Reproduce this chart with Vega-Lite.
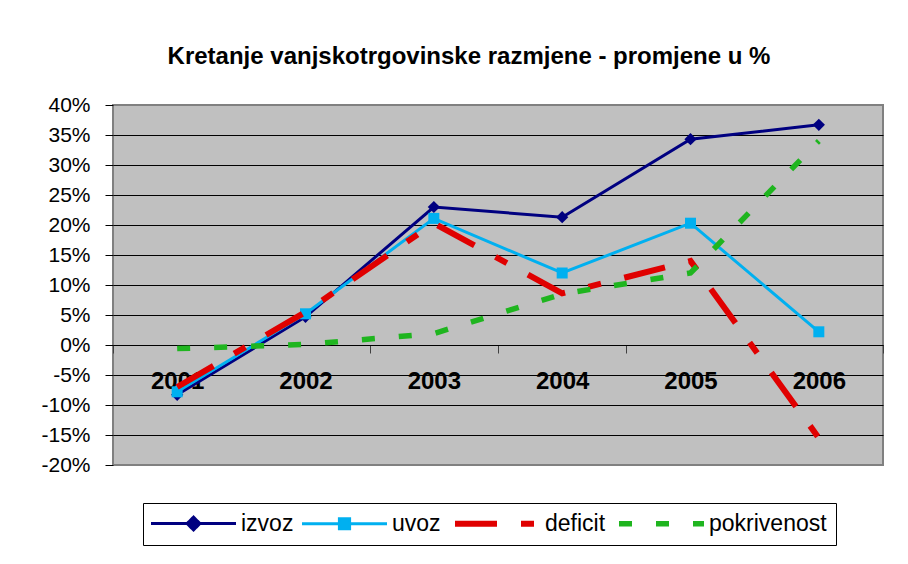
{
  "$schema": "https://vega.github.io/schema/vega-lite/v6.json",
  "width": 770,
  "height": 360,
  "autosize": {"type": "none"},
  "padding": {"left": 113, "top": 105, "right": 25, "bottom": 99},
  "background": "white",
  "title": {
    "text": "Kretanje vanjskotrgovinske razmjene - promjene u %",
    "font": "Liberation Sans",
    "fontSize": 24,
    "fontWeight": "bold",
    "color": "black",
    "anchor": "middle",
    "frame": "group",
    "dx": -29,
    "offset": 25
  },
  "config": {
    "view": {"fill": "#C0C0C0", "stroke": "#808080", "strokeWidth": 2}
  },
  "data": {
    "values": [
      {"year": "2001", "series": "izvoz", "value": -8.3},
      {"year": "2002", "series": "izvoz", "value": 4.7},
      {"year": "2003", "series": "izvoz", "value": 23.0},
      {"year": "2004", "series": "izvoz", "value": 21.3},
      {"year": "2005", "series": "izvoz", "value": 34.3},
      {"year": "2006", "series": "izvoz", "value": 36.7},
      {"year": "2001", "series": "uvoz", "value": -7.8},
      {"year": "2002", "series": "uvoz", "value": 5.2},
      {"year": "2003", "series": "uvoz", "value": 21.1},
      {"year": "2004", "series": "uvoz", "value": 12.0},
      {"year": "2005", "series": "uvoz", "value": 20.3},
      {"year": "2006", "series": "uvoz", "value": 2.2},
      {"year": "2001", "series": "deficit", "value": -7.0},
      {"year": "2002", "series": "deficit", "value": 5.5},
      {"year": "2003", "series": "deficit", "value": 20.3},
      {"year": "2004", "series": "deficit", "value": 8.6},
      {"year": "2005", "series": "deficit", "value": 14.0},
      {"year": "2006", "series": "deficit", "value": -15.5},
      {"year": "2001", "series": "pokrivenost", "value": -0.6},
      {"year": "2002", "series": "pokrivenost", "value": 0.1},
      {"year": "2003", "series": "pokrivenost", "value": 1.9},
      {"year": "2004", "series": "pokrivenost", "value": 8.5},
      {"year": "2005", "series": "pokrivenost", "value": 12.0},
      {"year": "2006", "series": "pokrivenost", "value": 34.0}
    ]
  },
  "encoding": {
    "x": {
      "field": "year",
      "type": "ordinal",
      "scale": {"paddingInner": 0, "paddingOuter": 0},
      "axis": {
        "title": null,
        "offset": -120,
        "tickBand": "extent",
        "tickSize": 8,
        "tickColor": "#404040",
        "domainColor": "black",
        "domainWidth": 1,
        "labelFont": "Liberation Sans",
        "labelFontSize": 24,
        "labelFontWeight": "bold",
        "labelColor": "black",
        "labelAngle": 0,
        "labelPadding": 16,
        "grid": false
      }
    },
    "y": {
      "field": "value",
      "type": "quantitative",
      "scale": {"domain": [-20, 40], "nice": false, "zero": false},
      "axis": {
        "title": null,
        "values": [-20, -15, -10, -5, 0, 5, 10, 15, 20, 25, 30, 35, 40],
        "labelExpr": "datum.value + '%'",
        "tickSize": 8,
        "tickColor": "black",
        "domain": false,
        "grid": true,
        "gridColor": {"condition": {"test": "datum.value == 40 || datum.value == -20", "value": "#808080"}, "value": "black"},
        "gridWidth": 1,
        "gridOpacity": 1,
        "labelFont": "Liberation Sans",
        "labelFontSize": 21,
        "labelColor": "black",
        "labelPadding": 15
      }
    },
    "color": {
      "field": "series",
      "type": "nominal",
      "scale": {
        "domain": ["izvoz", "uvoz", "deficit", "pokrivenost"],
        "range": ["#000080", "#00B0F0", "#E00000", "#1FB51F"]
      },
      "legend": {
        "title": null,
        "orient": "none",
        "legendX": 30,
        "legendY": 398,
        "direction": "horizontal",
        "symbolType": "stroke",
        "symbolSize": 7225,
        "symbolStrokeWidth": 3,
        "symbolOffset": 30,
        "labelFont": "Liberation Sans",
        "labelFontSize": 23,
        "labelColor": "black",
        "labelOffset": 36,
        "columnPadding": 2,
        "padding": 9,
        "strokeColor": "black",
        "fillColor": "white",
        "encode": {
          "symbols": {
            "update": {
              "shape": {"signal": "datum.value === 'izvoz' ? 'M-1,0L1,0M-0.15,0L0,-0.15L0.15,0L0,0.15Z' : datum.value === 'uvoz' ? 'M-1,0L1,0M-0.12,-0.12L0.12,-0.12L0.12,0.12L-0.12,0.12Z' : 'M-1,0L1,0'"},
              "fill": {"signal": "datum.value === 'izvoz' || datum.value === 'uvoz' ? scale('color', datum.value) : 'transparent'"},
              "stroke": {"signal": "scale('color', datum.value)"},
              "strokeWidth": {"signal": "datum.value === 'deficit' ? 6 : datum.value === 'pokrivenost' ? 5.5 : 3"},
              "strokeDash": {"signal": "datum.value === 'deficit' ? [42,24,13,24] : datum.value === 'pokrivenost' ? [13,24] : [1,0]"},
              "size": {"value": 7225},
              "opacity": {"value": 1}
            }
          }
        }
      }
    }
  },
  "layer": [
    {
      "transform": [{"filter": "datum.series === 'izvoz'"}],
      "mark": {"type": "line", "strokeWidth": 3}
    },
    {
      "transform": [{"filter": "datum.series === 'izvoz'"}],
      "mark": {"type": "point", "shape": "diamond", "filled": true, "opacity": 1, "size": 150}
    },
    {
      "transform": [{"filter": "datum.series === 'uvoz'"}],
      "mark": {"type": "line", "strokeWidth": 3}
    },
    {
      "transform": [{"filter": "datum.series === 'uvoz'"}],
      "mark": {"type": "point", "shape": "square", "filled": true, "opacity": 1, "size": 121}
    },
    {
      "transform": [{"filter": "datum.series === 'deficit'"}],
      "mark": {"type": "line", "strokeWidth": 6, "strokeDash": [42, 24, 13, 24]}
    },
    {
      "transform": [{"filter": "datum.series === 'pokrivenost'"}],
      "mark": {"type": "line", "strokeWidth": 5.5, "strokeDash": [13, 24]}
    }
  ]
}
